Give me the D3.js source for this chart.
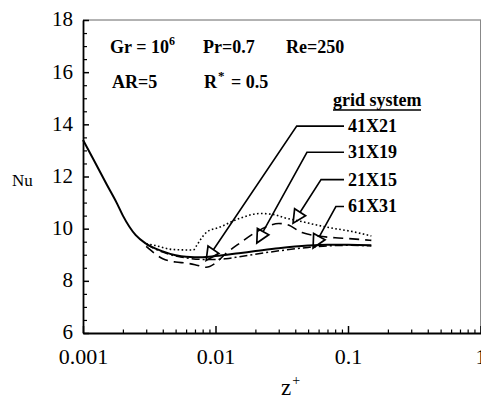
<!DOCTYPE html>
<html>
<head>
<meta charset="utf-8">
<script src="https://cdn.jsdelivr.net/npm/d3@7"></script>
<style>
  html, body { margin: 0; padding: 0; background: #fff; }
  svg { display: block; }
</style>
</head>
<body>
<svg id="chart" width="481" height="399"></svg>
<script>
// ---------------- data ----------------
const seriesNames = ["41X21", "31X19", "21X15", "61X31"];

const z41x21  = [0.001, 0.0012, 0.0015, 0.0018, 0.002, 0.0025, 0.003, 0.004, 0.005, 0.006, 0.008, 0.01, 0.015, 0.02, 0.03, 0.05, 0.07, 0.1, 0.15];
const nu41x21 = [13.4, 12.65, 11.72, 10.98, 10.5, 9.75, 9.42, 9.13, 8.98, 8.92, 8.9, 8.95, 9.06, 9.14, 9.25, 9.35, 9.38, 9.38, 9.36];

const z31x19  = [0.003, 0.004, 0.005, 0.006, 0.007, 0.0085, 0.01, 0.012, 0.015, 0.02, 0.025, 0.03, 0.035, 0.045, 0.06, 0.08, 0.1, 0.15];
const nu31x19 = [9.32, 8.85, 8.72, 8.68, 8.62, 8.52, 8.68, 9.05, 9.42, 9.85, 10.1, 10.2, 10.15, 9.85, 9.72, 9.65, 9.62, 9.55];

const z21x15  = [0.003, 0.0034, 0.0048, 0.0068, 0.0072, 0.0078, 0.0086, 0.0108, 0.0153, 0.0216, 0.027, 0.033, 0.045, 0.058, 0.08, 0.1, 0.15];
const nu21x15 = [9.42, 9.37, 9.2, 9.18, 9.35, 9.62, 9.87, 10.06, 10.4, 10.58, 10.55, 10.42, 10.27, 10.14, 10.0, 9.92, 9.72];

const z61x31  = [0.003, 0.004, 0.005, 0.006, 0.008, 0.01, 0.012, 0.015, 0.02, 0.03, 0.05, 0.07, 0.1, 0.15];
const nu61x31 = [9.4, 9.1, 8.95, 8.88, 8.82, 8.82, 8.85, 8.92, 9.02, 9.15, 9.28, 9.34, 9.36, 9.34];

const xTicks = [0.001, 0.01, 0.1, 1];
const xTickLabels = ["0.001", "0.01", "0.1", "1"];
const yTicks = [6, 8, 10, 12, 14, 16, 18];

// arrow annotations: tip (z, Nu) and elbow (z, Nu), label Nu level
const arrowTipZ   = [0.0085, 0.0205, 0.0385, 0.0545];
const arrowTipNu  = [8.78, 9.45, 10.21, 9.26];
const arrowElbowZ = [0.041, 0.049, 0.0626, 0.081];
const arrowLevelNu = [13.93, 12.93, 11.88, 10.85];

// ---------------- drawing ----------------
const svg = d3.select("#chart");
const serif = "'Liberation Serif', 'Times New Roman', serif";

const x = d3.scaleLog().domain([0.001, 1]).range([83, 480.5]);
const y = d3.scaleLinear().domain([6, 18]).range([333, 20]);

// frame (top & right, thin)
svg.append("line").attr("x1", 83).attr("x2", 481).attr("y1", 20).attr("y2", 20)
  .attr("stroke", "#666").attr("stroke-width", 1);
svg.append("line").attr("x1", 480.5).attr("x2", 480.5).attr("y1", 20).attr("y2", 333)
  .attr("stroke", "#888").attr("stroke-width", 1);

// minor ticks
const yMinor = d3.range(6, 18.01, 0.5).filter(v => v % 2 !== 0);
svg.append("g").attr("transform", "translate(83,0)")
  .call(d3.axisLeft(y).tickValues(yMinor).tickSize(-4).tickFormat(""))
  .call(g => g.select(".domain").remove())
  .selectAll("line").attr("stroke", "#000").attr("stroke-width", 1.2);

const xMinor = [];
[0.001, 0.01, 0.1].forEach(d => { for (let k = 2; k <= 9; k++) xMinor.push(d * k); });
svg.append("g").attr("transform", "translate(0,333)")
  .call(d3.axisBottom(x).tickValues(xMinor).tickSize(-3.5).tickFormat(""))
  .call(g => g.select(".domain").remove())
  .selectAll("line").attr("stroke", "#000").attr("stroke-width", 1.2);

// major axes
const gy = svg.append("g").attr("transform", "translate(83,0)")
  .call(d3.axisLeft(y).tickValues(yTicks).tickSize(-6).tickSizeOuter(0).tickPadding(10).tickFormat(d3.format("d")));
gy.select(".domain").attr("stroke", "#000").attr("stroke-width", 1.8);
gy.selectAll(".tick line").attr("stroke", "#000").attr("stroke-width", 1.5);
gy.selectAll("text").attr("font-family", serif).attr("font-size", 21).attr("fill", "#000").attr("dy", "0.28em");

const gx = svg.append("g").attr("transform", "translate(0,333)")
  .call(d3.axisBottom(x).tickValues(xTicks).tickSize(-7).tickSizeOuter(0).tickPadding(15)
    .tickFormat((d, i) => xTickLabels[i]));
gx.select(".domain").attr("stroke", "#000").attr("stroke-width", 1.8);
gx.selectAll(".tick line").attr("stroke", "#000").attr("stroke-width", 1.5);
gx.selectAll("text").attr("font-family", serif).attr("font-size", 22).attr("fill", "#000");

// axis titles
svg.append("text").attr("x", 12).attr("y", 186).attr("font-family", serif)
  .attr("font-size", 17).text("Nu");
const zt = svg.append("text").attr("x", 281).attr("y", 395).attr("font-family", serif).attr("font-size", 23);
zt.append("tspan").text("z");
zt.append("tspan").attr("font-size", 14).attr("dy", -10).attr("dx", 1).text("+");

// curves
const line = d3.line().x(d => x(d[0])).y(d => y(d[1])).curve(d3.curveMonotoneX);
const series = [
  { z: z61x31, nu: nu61x31, dash: "8,3,2,3", w: 1.5 },
  { z: z31x19, nu: nu31x19, dash: "10,6", w: 1.6 },
  { z: z21x15, nu: nu21x15, dash: "1.6,2.4", w: 1.6 },
  { z: z41x21, nu: nu41x21, dash: null, w: 2 }
];
series.forEach(s => {
  const pts = s.z.map((v, i) => [v, s.nu[i]]);
  svg.append("path").datum(pts).attr("d", line)
    .attr("fill", "none").attr("stroke", "#000").attr("stroke-width", s.w)
    .attr("stroke-dasharray", s.dash);
});

// annotations
const bold = { "font-family": serif, "font-size": 18, "font-weight": "bold" };
function txt(xp, yp) {
  const t = svg.append("text").attr("x", xp).attr("y", yp);
  Object.entries(bold).forEach(([k, v]) => t.attr(k, v));
  return t;
}
let t = txt(110, 53);
t.append("tspan").text("Gr = 10");
t.append("tspan").attr("font-size", 12).attr("dy", -8).text("6");
txt(203, 53).text("Pr=0.7");
txt(286, 53).text("Re=250");
txt(112, 88).text("AR=5");
t = txt(204, 88);
t.append("tspan").text("R");
t.append("tspan").attr("font-size", 13).attr("dy", -8).attr("dx", 1).text("*");
t.append("tspan").attr("dy", 8).attr("dx", 2).text(" = 0.5");
txt(333, 106).text("grid system");
svg.append("line").attr("x1", 333).attr("x2", 421).attr("y1", 110).attr("y2", 110)
  .attr("stroke", "#000").attr("stroke-width", 1.3);

// leaders with open arrowheads
const lineEndX = 344, labelX = 348;
seriesNames.forEach((name, i) => {
  const tx = x(arrowTipZ[i]), ty = y(arrowTipNu[i]);
  const ex = x(arrowElbowZ[i]), ey = y(arrowLevelNu[i]);
  const dx = tx - ex, dy = ty - ey, len = Math.hypot(dx, dy);
  const ux = dx / len, uy = dy / len;
  const L = 13, H = 6.5;
  const bx = tx - ux * L, by = ty - uy * L;
  svg.append("path")
    .attr("d", `M${lineEndX},${ey}L${ex},${ey}L${bx},${by}`)
    .attr("fill", "none").attr("stroke", "#000").attr("stroke-width", 1.6);
  svg.append("path")
    .attr("d", `M${tx},${ty}L${bx - uy * H},${by + ux * H}L${bx + uy * H},${by - ux * H}Z`)
    .attr("fill", "none").attr("stroke", "#000").attr("stroke-width", 1.7).attr("stroke-linejoin", "miter");
  txt(labelX, ey + 6).text(name);
});
</script>
</body>
</html>
